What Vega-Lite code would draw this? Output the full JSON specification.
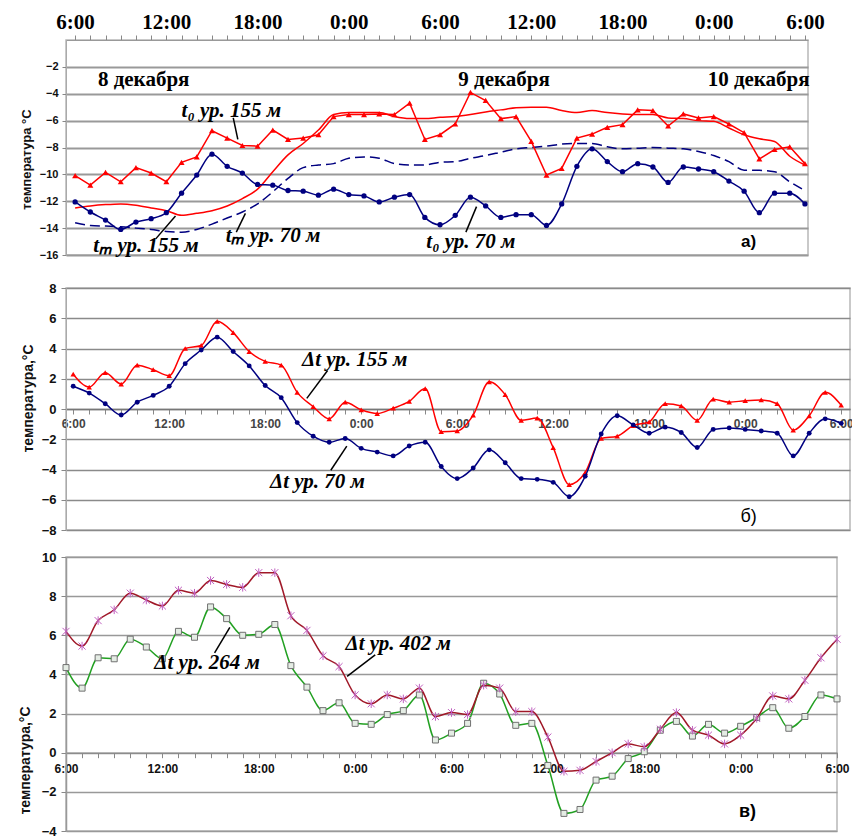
{
  "$schema": "https://vega.github.io/schema/vega-lite/v6.json",
  "background": "white",
  "padding": {"left": 17, "top": 10, "right": 0, "bottom": 0},
  "bounds": "flush",
  "spacing": 33,
  "config": {
    "view": {"stroke": "#b8b8b8", "strokeWidth": 1.5},
    "axis": {"labelFont": "Liberation Sans", "labelFontWeight": "bold", "labelColor": "#111", "titleFont": "Liberation Sans", "titleFontWeight": "bold", "titleColor": "#111", "tickColor": "#888", "domainColor": "#999", "labelOverlap": false, "labelFlush": false}
  },
  "datasets": {
    "a": [
      {"h":0,"t155":-10.1,"t70":-12.05,"m155":-12.5,"m70":-13.6},
      {"h":1,"t155":-10.8,"t70":-12.8,"m155":-12.35,"m70":-13.8},
      {"h":2,"t155":-9.85,"t70":-13.4,"m155":-12.25,"m70":-13.85},
      {"h":3,"t155":-10.55,"t70":-14.1,"m155":-12.2,"m70":-13.9},
      {"h":4,"t155":-9.5,"t70":-13.55,"m155":-12.3,"m70":-14.0},
      {"h":5,"t155":-9.9,"t70":-13.3,"m155":-12.5,"m70":-14.1},
      {"h":6,"t155":-10.55,"t70":-12.85,"m155":-12.7,"m70":-14.25},
      {"h":7,"t155":-9.1,"t70":-11.4,"m155":-13.05,"m70":-14.3},
      {"h":8,"t155":-8.7,"t70":-10.05,"m155":-12.9,"m70":-14.1},
      {"h":9,"t155":-6.75,"t70":-8.5,"m155":-12.7,"m70":-13.7},
      {"h":10,"t155":-7.3,"t70":-9.4,"m155":-12.35,"m70":-13.25},
      {"h":11,"t155":-7.85,"t70":-9.9,"m155":-11.8,"m70":-12.8},
      {"h":12,"t155":-7.9,"t70":-10.75,"m155":-11.1,"m70":-12.2},
      {"h":13,"t155":-6.7,"t70":-10.8,"m155":-9.8,"m70":-11.3},
      {"h":14,"t155":-7.4,"t70":-11.2,"m155":-8.55,"m70":-10.3},
      {"h":15,"t155":-7.3,"t70":-11.25,"m155":-7.7,"m70":-9.5},
      {"h":16,"t155":-7.05,"t70":-11.55,"m155":-6.7,"m70":-9.3},
      {"h":17,"t155":-5.7,"t70":-11.1,"m155":-5.55,"m70":-9.2},
      {"h":18,"t155":-5.55,"t70":-11.5,"m155":-5.4,"m70":-8.8},
      {"h":19,"t155":-5.55,"t70":-11.6,"m155":-5.4,"m70":-8.7},
      {"h":20,"t155":-5.5,"t70":-12.05,"m155":-5.4,"m70":-8.8},
      {"h":21,"t155":-5.55,"t70":-11.7,"m155":-5.7,"m70":-9.2},
      {"h":22,"t155":-4.7,"t70":-11.5,"m155":-5.85,"m70":-9.3},
      {"h":23,"t155":-7.4,"t70":-13.2,"m155":-5.85,"m70":-9.3},
      {"h":24,"t155":-7.05,"t70":-13.75,"m155":-5.75,"m70":-9.1},
      {"h":25,"t155":-6.25,"t70":-13.05,"m155":-5.7,"m70":-9.05},
      {"h":26,"t155":-3.9,"t70":-11.7,"m155":-5.55,"m70":-8.8},
      {"h":27,"t155":-4.5,"t70":-12.35,"m155":-5.35,"m70":-8.6},
      {"h":28,"t155":-5.85,"t70":-13.2,"m155":-5.2,"m70":-8.35},
      {"h":29,"t155":-5.7,"t70":-13.0,"m155":-5.05,"m70":-8.1},
      {"h":30,"t155":-7.55,"t70":-13.0,"m155":-5.0,"m70":-8.0},
      {"h":31,"t155":-10.05,"t70":-13.8,"m155":-5.0,"m70":-7.9},
      {"h":32,"t155":-9.55,"t70":-12.2,"m155":-5.25,"m70":-7.75},
      {"h":33,"t155":-7.3,"t70":-9.4,"m155":-5.4,"m70":-7.7},
      {"h":34,"t155":-7.0,"t70":-8.1,"m155":-5.25,"m70":-7.7},
      {"h":35,"t155":-6.5,"t70":-9.05,"m155":-5.4,"m70":-7.95},
      {"h":36,"t155":-6.3,"t70":-9.8,"m155":-5.5,"m70":-8.1},
      {"h":37,"t155":-5.2,"t70":-9.2,"m155":-5.55,"m70":-8.05},
      {"h":38,"t155":-5.25,"t70":-9.45,"m155":-5.55,"m70":-8.0},
      {"h":39,"t155":-6.4,"t70":-10.6,"m155":-5.8,"m70":-8.05},
      {"h":40,"t155":-5.5,"t70":-9.45,"m155":-5.85,"m70":-8.1},
      {"h":41,"t155":-5.8,"t70":-9.6,"m155":-6.0,"m70":-8.3},
      {"h":42,"t155":-5.7,"t70":-9.8,"m155":-6.05,"m70":-8.6},
      {"h":43,"t155":-6.25,"t70":-10.5,"m155":-6.55,"m70":-9.05},
      {"h":44,"t155":-6.9,"t70":-11.25,"m155":-7.05,"m70":-9.7},
      {"h":45,"t155":-8.85,"t70":-12.85,"m155":-7.35,"m70":-9.7},
      {"h":46,"t155":-8.15,"t70":-11.4,"m155":-7.55,"m70":-9.8},
      {"h":47,"t155":-7.95,"t70":-11.4,"m155":-8.65,"m70":-10.55},
      {"h":48,"t155":-9.2,"t70":-12.2,"m155":-9.3,"m70":-11.2}
    ],
    "b": [
      {"h":0,"d155":2.3,"d70":1.5},{"h":1,"d155":1.45,"d70":1.05},{"h":2,"d155":2.4,"d70":0.35},
      {"h":3,"d155":1.65,"d70":-0.4},{"h":4,"d155":2.9,"d70":0.45},{"h":5,"d155":2.6,"d70":0.9},
      {"h":6,"d155":2.2,"d70":1.5},{"h":7,"d155":4.0,"d70":3.0},{"h":8,"d155":4.2,"d70":3.9},
      {"h":9,"d155":5.8,"d70":4.75},{"h":10,"d155":5.05,"d70":3.8},{"h":11,"d155":3.8,"d70":2.85},
      {"h":12,"d155":3.15,"d70":1.55},{"h":13,"d155":2.9,"d70":0.75},{"h":14,"d155":1.1,"d70":-0.9},
      {"h":15,"d155":0.15,"d70":-1.8},{"h":16,"d155":-0.65,"d70":-2.2},{"h":17,"d155":0.45,"d70":-1.95},
      {"h":18,"d155":-0.05,"d70":-2.6},{"h":19,"d155":-0.3,"d70":-2.85},{"h":20,"d155":0.05,"d70":-3.1},
      {"h":21,"d155":0.5,"d70":-2.45},{"h":22,"d155":1.35,"d70":-2.2},{"h":23,"d155":-1.5,"d70":-3.8},
      {"h":24,"d155":-1.45,"d70":-4.6},{"h":25,"d155":-0.4,"d70":-3.9},{"h":26,"d155":1.8,"d70":-2.7},
      {"h":27,"d155":0.95,"d70":-3.55},{"h":28,"d155":-0.75,"d70":-4.6},{"h":29,"d155":-0.6,"d70":-4.65},
      {"h":30,"d155":-2.55,"d70":-4.85},{"h":31,"d155":-5.0,"d70":-5.8},{"h":32,"d155":-4.2,"d70":-4.45},
      {"h":33,"d155":-1.95,"d70":-1.65},{"h":34,"d155":-1.8,"d70":-0.45},{"h":35,"d155":-1.1,"d70":-1.05},
      {"h":36,"d155":-0.85,"d70":-1.6},{"h":37,"d155":0.35,"d70":-1.2},{"h":38,"d155":0.2,"d70":-1.55},
      {"h":39,"d155":-0.75,"d70":-2.55},{"h":40,"d155":0.65,"d70":-1.35},{"h":41,"d155":0.45,"d70":-1.25},
      {"h":42,"d155":0.55,"d70":-1.35},{"h":43,"d155":0.6,"d70":-1.45},{"h":44,"d155":0.35,"d70":-1.6},
      {"h":45,"d155":-1.4,"d70":-3.1},{"h":46,"d155":-0.45,"d70":-1.6},{"h":47,"d155":1.1,"d70":-0.65},
      {"h":48,"d155":0.25,"d70":-0.95}
    ],
    "c": [
      {"h":0,"d402":6.2,"d264":4.35},{"h":1,"d402":5.45,"d264":3.3},{"h":2,"d402":6.75,"d264":4.85},
      {"h":3,"d402":7.3,"d264":4.8},{"h":4,"d402":8.15,"d264":5.8},{"h":5,"d402":7.8,"d264":5.4},
      {"h":6,"d402":7.5,"d264":4.8},{"h":7,"d402":8.3,"d264":6.2},{"h":8,"d402":8.15,"d264":5.9},
      {"h":9,"d402":8.8,"d264":7.45},{"h":10,"d402":8.6,"d264":6.85},{"h":11,"d402":8.45,"d264":6.0},
      {"h":12,"d402":9.2,"d264":6.05},{"h":13,"d402":9.2,"d264":6.55},{"h":14,"d402":7.0,"d264":4.45},
      {"h":15,"d402":6.25,"d264":3.35},{"h":16,"d402":4.95,"d264":2.15},{"h":17,"d402":4.4,"d264":2.55},
      {"h":18,"d402":2.95,"d264":1.5},{"h":19,"d402":2.5,"d264":1.45},{"h":20,"d402":2.95,"d264":1.95},
      {"h":21,"d402":2.75,"d264":2.15},{"h":22,"d402":3.3,"d264":2.95},{"h":23,"d402":1.85,"d264":0.65},
      {"h":24,"d402":2.05,"d264":1.0},{"h":25,"d402":1.95,"d264":1.5},{"h":26,"d402":3.45,"d264":3.55},
      {"h":27,"d402":3.3,"d264":3.0},{"h":28,"d402":2.1,"d264":1.4},{"h":29,"d402":2.1,"d264":1.5},
      {"h":30,"d402":0.8,"d264":-0.65},{"h":31,"d402":-0.95,"d264":-3.1},{"h":32,"d402":-0.9,"d264":-2.9},
      {"h":33,"d402":-0.45,"d264":-1.4},{"h":34,"d402":0.0,"d264":-1.2},{"h":35,"d402":0.45,"d264":-0.3},
      {"h":36,"d402":0.3,"d264":0.05},{"h":37,"d402":1.2,"d264":1.15},{"h":38,"d402":2.05,"d264":1.6},
      {"h":39,"d402":1.15,"d264":0.85},{"h":40,"d402":0.9,"d264":1.45},{"h":41,"d402":0.45,"d264":1.0},
      {"h":42,"d402":0.9,"d264":1.35},{"h":43,"d402":1.75,"d264":1.8},{"h":44,"d402":2.9,"d264":2.3},
      {"h":45,"d402":2.75,"d264":1.25},{"h":46,"d402":3.7,"d264":1.85},{"h":47,"d402":4.85,"d264":2.95},
      {"h":48,"d402":5.8,"d264":2.75}
    ],
    "a_lbl": [
      {"h":7.0,"v":-5.3,"label":"t₀ ур. 155 м"},
      {"h":1.2,"v":-15.3,"label":"tₘ ур. 155 м"},
      {"h":9.9,"v":-14.6,"label":"tₘ ур. 70 м"},
      {"h":23.1,"v":-15.0,"label":"t₀  ур. 70 м"}
    ],
    "a_date": [
      {"h":1.5,"v":-3.0,"label":"8 декабря"},
      {"h":25.2,"v":-3.0,"label":"9 декабря"},
      {"h":41.6,"v":-3.0,"label":"10 декабря"}
    ],
    "a_tag": [{"h":43.8,"v":-15.0,"label":"а)"}],
    "a_rule": [
      {"h":10.4,"v":-5.8,"h2":10.7,"v2":-7.4},
      {"h":5.3,"v":-14.8,"h2":6.6,"v2":-13.1},
      {"h":10.6,"v":-14.3,"h2":11.2,"v2":-12.9},
      {"h":25.7,"v":-14.3,"h2":26.4,"v2":-12.4}
    ],
    "b_lbl": [
      {"h":14.3,"v":3.27,"label":"Δt  ур. 155 м"},
      {"h":12.3,"v":-4.85,"label":"Δt  ур. 70 м"}
    ],
    "b_tag": [{"h":41.7,"v":-7.15,"label":"б)"}],
    "b_rule": [
      {"h":15.9,"v":2.55,"h2":14.6,"v2":0.7},
      {"h":17.1,"v":-2.45,"h2":16.1,"v2":-4.05}
    ],
    "c_lbl": [
      {"h":5.5,"v":4.6,"label":"Δt  ур. 264 м"},
      {"h":17.4,"v":5.55,"label":"Δt  ур. 402 м"}
    ],
    "c_tag": [{"h":41.9,"v":-3.05,"label":"в)"}],
    "c_rule": [
      {"h":10.2,"v":6.4,"h2":9.25,"v2":5.1},
      {"h":19.25,"v":5.0,"h2":17.5,"v2":3.9}
    ]
  },
  "vconcat": [
    {
      "width": 742,
      "height": 215,
      "encoding": {
        "x": {"field": "h", "type": "quantitative",
          "scale": {"domain": [-0.6, 48.2], "nice": false, "zero": false},
          "axis": {"orient": "top", "values": [0,1,2,3,4,5,6,7,8,9,10,11,12,13,14,15,16,17,18,19,20,21,22,23,24,25,26,27,28,29,30,31,32,33,34,35,36,37,38,39,40,41,42,43,44,45,46,47,48],
            "labelExpr": "datum.value % 6 == 0 ? ((datum.value + 6) % 24) + ':00' : ''",
            "labelFont": "Liberation Serif", "labelFontSize": 21, "labelColor": "#000", "labelPadding": 3,
            "tickSize": 5, "domainColor": "#999", "grid": false, "title": null}},
        "y": {"field": "v", "type": "quantitative",
          "scale": {"domain": [-16, 0], "nice": false},
          "axis": {"values": [-16,-14,-12,-10,-8,-6,-4,-2], "grid": true, "gridColor": "#999", "gridWidth": 2,
            "labelFontSize": 11, "labelPadding": 4, "tickSize": 4, "domainColor": "#aaa",
            "title": "температура °C", "titleFontSize": 13, "titleX": -33, "titleY": 119}}
      },
      "layer": [
        {"data": {"name": "a"}, "transform": [{"fold": ["m155"], "as": ["s", "v"]}],
          "mark": {"type": "line", "color": "#ff0000", "strokeWidth": 1.5, "interpolate": "monotone"}},
        {"data": {"name": "a"}, "transform": [{"fold": ["m70"], "as": ["s", "v"]}],
          "mark": {"type": "line", "color": "#000080", "strokeWidth": 1.5, "strokeDash": [10, 5], "interpolate": "monotone"}},
        {"data": {"name": "a"}, "transform": [{"fold": ["t155"], "as": ["s", "v"]}],
          "mark": {"type": "line", "color": "#ff0000", "strokeWidth": 1.5, "point": {"shape": "triangle-up", "filled": true, "color": "#ff0000", "size": 36}}},
        {"data": {"name": "a"}, "transform": [{"fold": ["t70"], "as": ["s", "v"]}],
          "mark": {"type": "line", "color": "#000080", "strokeWidth": 1.5, "interpolate": "monotone", "point": {"shape": "circle", "filled": true, "color": "#000080", "size": 28}}},
        {"data": {"name": "a_rule"}, "mark": {"type": "rule", "color": "#000", "strokeWidth": 1.5},
          "encoding": {"x2": {"field": "h2"}, "y2": {"field": "v2"}}},
        {"data": {"name": "a_lbl"}, "mark": {"type": "text", "align": "left", "baseline": "middle", "font": "Liberation Serif", "fontStyle": "italic", "fontWeight": "bold", "fontSize": 21, "color": "#000"},
          "encoding": {"text": {"field": "label"}}},
        {"data": {"name": "a_date"}, "mark": {"type": "text", "align": "left", "baseline": "middle", "font": "Liberation Serif", "fontWeight": "bold", "fontSize": 21, "color": "#000"},
          "encoding": {"text": {"field": "label"}}},
        {"data": {"name": "a_tag"}, "mark": {"type": "text", "align": "left", "baseline": "middle", "font": "Liberation Sans", "fontWeight": "bold", "fontSize": 17, "color": "#000"},
          "encoding": {"text": {"field": "label"}}}
      ]
    },
    {
      "bounds": "flush",
      "spacing": 27,
      "vconcat": [
        {
          "width": 784,
          "height": 242,
          "encoding": {
            "x": {"field": "h", "type": "quantitative",
              "scale": {"domain": [-0.45, 48.55], "nice": false, "zero": false},
              "axis": {"orient": "bottom", "offset": -121, "values": [0,1,2,3,4,5,6,7,8,9,10,11,12,13,14,15,16,17,18,19,20,21,22,23,24,25,26,27,28,29,30,31,32,33,34,35,36,37,38,39,40,41,42,43,44,45,46,47,48],
                "labelExpr": "datum.value % 6 == 0 ? ((datum.value + 6) % 24) + ':00' : ''",
                "labelFontSize": 12, "labelColor": "#444", "labelPadding": 4, "tickSize": 5, "domainColor": "#777", "domainWidth": 1.5, "grid": false, "title": null}},
            "y": {"field": "v", "type": "quantitative",
              "scale": {"domain": [-8, 8], "nice": false},
              "axis": {"values": [-8,-6,-4,-2,0,2,4,6,8], "grid": true, "gridColor": "#8a8a8a", "gridWidth": 1.5,
                "labelFontSize": 13, "labelPadding": 5, "tickSize": 5, "domainColor": "#aaa",
                "title": "температура,°C", "titleFontSize": 14, "titleX": -31, "titleY": 110}}
          },
          "layer": [
            {"data": {"name": "b"}, "transform": [{"fold": ["d155"], "as": ["s", "v"]}],
              "mark": {"type": "line", "color": "#ff0000", "strokeWidth": 1.5, "interpolate": "monotone", "point": {"shape": "triangle-up", "filled": true, "color": "#ff0000", "size": 30}}},
            {"data": {"name": "b"}, "transform": [{"fold": ["d70"], "as": ["s", "v"]}],
              "mark": {"type": "line", "color": "#000080", "strokeWidth": 1.5, "interpolate": "monotone", "point": {"shape": "circle", "filled": true, "color": "#000080", "size": 24}}},
            {"data": {"name": "b_rule"}, "mark": {"type": "rule", "color": "#000", "strokeWidth": 1.5},
              "encoding": {"x2": {"field": "h2"}, "y2": {"field": "v2"}}},
            {"data": {"name": "b_lbl"}, "mark": {"type": "text", "align": "left", "baseline": "middle", "font": "Liberation Serif", "fontStyle": "italic", "fontWeight": "bold", "fontSize": 21, "color": "#000"},
              "encoding": {"text": {"field": "label"}}},
            {"data": {"name": "b_tag"}, "mark": {"type": "text", "align": "left", "baseline": "middle", "font": "Liberation Sans", "fontSize": 18, "color": "#000"},
              "encoding": {"text": {"field": "label"}}}
          ]
        },
        {
          "width": 771,
          "height": 274,
          "encoding": {
            "x": {"field": "h", "type": "quantitative",
              "scale": {"domain": [0, 48], "nice": false, "zero": false},
              "axis": {"orient": "bottom", "offset": -78.3, "values": [0,1,2,3,4,5,6,7,8,9,10,11,12,13,14,15,16,17,18,19,20,21,22,23,24,25,26,27,28,29,30,31,32,33,34,35,36,37,38,39,40,41,42,43,44,45,46,47,48],
                "labelExpr": "datum.value % 6 == 0 ? ((datum.value + 6) % 24) + ':00' : ''",
                "labelFontSize": 12, "labelColor": "#111", "labelPadding": 6, "tickSize": 5, "domainColor": "#888", "domainWidth": 1.2, "grid": false, "title": null}},
            "y": {"field": "v", "type": "quantitative",
              "scale": {"domain": [-4, 10], "nice": false},
              "axis": {"values": [-4,-2,0,2,4,6,8,10], "grid": true, "gridColor": "#999", "gridWidth": 1.3,
                "labelFontSize": 13, "labelPadding": 5, "tickSize": 5, "domainColor": "#999", "domainWidth": 1.5,
                "title": "температура,°C", "titleFontSize": 14, "titleX": -34, "titleY": 203}}
          },
          "layer": [
            {"data": {"name": "c"}, "transform": [{"fold": ["d264"], "as": ["s", "v"]}],
              "mark": {"type": "line", "color": "#22a022", "strokeWidth": 1.5, "interpolate": "monotone"}},
            {"data": {"name": "c"}, "transform": [{"fold": ["d264"], "as": ["s", "v"]}],
              "mark": {"type": "point", "shape": "square", "filled": true, "fill": "#e4ece4", "stroke": "#707070", "strokeWidth": 1, "size": 36, "opacity": 1}},
            {"data": {"name": "c"}, "transform": [{"fold": ["d402"], "as": ["s", "v"]}],
              "mark": {"type": "line", "color": "#a01828", "strokeWidth": 1.5, "interpolate": "monotone"}},
            {"data": {"name": "c"}, "transform": [{"fold": ["d402"], "as": ["s", "v"]}],
              "mark": {"type": "point", "shape": "M-1,-1L1,1M-1,1L1,-1M0,-1.2L0,1.2", "filled": false, "stroke": "#c060c0", "strokeWidth": 1, "size": 50, "opacity": 1}},
            {"data": {"name": "c_rule"}, "mark": {"type": "rule", "color": "#000", "strokeWidth": 1.5},
              "encoding": {"x2": {"field": "h2"}, "y2": {"field": "v2"}}},
            {"data": {"name": "c_lbl"}, "mark": {"type": "text", "align": "left", "baseline": "middle", "font": "Liberation Serif", "fontStyle": "italic", "fontWeight": "bold", "fontSize": 21, "color": "#000"},
              "encoding": {"text": {"field": "label"}}},
            {"data": {"name": "c_tag"}, "mark": {"type": "text", "align": "left", "baseline": "middle", "font": "Liberation Sans", "fontWeight": "bold", "fontSize": 18, "color": "#000"},
              "encoding": {"text": {"field": "label"}}}
          ]
        }
      ]
    }
  ]
}
